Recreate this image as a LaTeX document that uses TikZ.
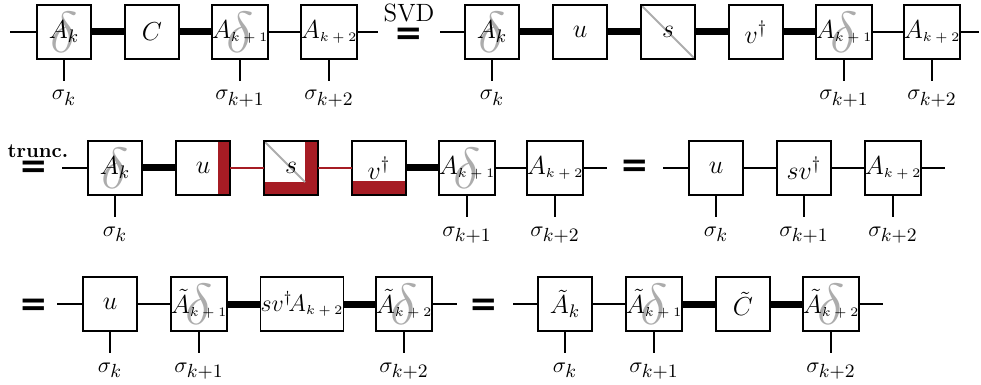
\RequirePackage{fix-cm}
\documentclass[tikz,border=0pt]{standalone}
\usepackage{fontspec}
\newfontfamily\eqfont{DejaVu Sans}
\usetikzlibrary{calc,positioning}
\pgfdeclarelayer{bg}
\pgfsetlayers{bg,main}
\definecolor{trunc}{RGB}{166,28,36}
\definecolor{dgray}{RGB}{172,172,172}
\newcommand{\ssub}[1]{\hbox{\fontsize{6.5}{7}\selectfont$#1$}}
\newcommand{\lsub}[1]{\hbox{\fontsize{9.5}{11}\selectfont$#1$}}
\begin{document}
\begin{tikzpicture}[x=0.5pt,y=-0.5pt,
  font=\fontsize{11}{13}\selectfont,
  tb/.style={draw, line width=0.9pt, minimum width=27pt, minimum height=27pt, inner sep=0pt, outer sep=0pt, font=\fontsize{13}{15}\selectfont},
  wide/.style={tb, minimum width=41pt, font=\fontsize{12}{14}\selectfont},
  thin/.style={line width=0.9pt},
  fat/.style={line width=3.5pt},
  redl/.style={line width=0.8pt, draw=trunc},
  lab/.style={inner sep=0pt, outer sep=0pt, text height=9.5pt, text depth=4pt, below=11pt of #1},
  eqs/.style={font=\eqfont\bfseries\fontsize{17}{17}\selectfont, inner sep=0pt},
  dl/.style={text=dgray, font=\fontsize{29}{29}\selectfont, inner sep=0pt},
  diag/.style={draw=dgray, line width=0.9pt}
]
\useasboundingbox (0,0) rectangle (981,385);

% ---------- Row 1, left ----------
\coordinate (r1l) at (10,32);
\node[tb] (a1) at (64,32) {$A_k$};
\node[tb] (c1) at (152,32) {$C$};
\node[tb] (b1) at (240,32) {$A_{\ssub{k+1}}$};
\node[tb] (d1) at (329,32) {$A_{\ssub{k+2}}$};
\coordinate (r1r) at (378,32);
\draw[thin] (r1l) -- (a1);
\draw[fat] (a1) -- (c1);
\draw[fat] (c1) -- (b1);
\draw[thin] (b1) -- (d1);
\draw[thin] (d1) -- (r1r);
\node[lab=a1] (la1) {$\sigma_{\lsub{k}}$};
\node[lab=b1] (lb1) {$\sigma_{\lsub{k{+}1}}$};
\node[lab=d1] (ld1) {$\sigma_{\lsub{k{+}2}}$};
\foreach \n in {a1,b1,d1} \draw[thin] (\n.south) -- (l\n.north);

% SVD equals
\node (svd) at (409,13) {\fontsize{12.5}{14}\selectfont SVD};
\node[eqs] (eq1) at (409,36) {=};

% ---------- Row 1, right ----------
\coordinate (r1l2) at (440,32);
\node[tb] (e1) at (492,32) {$A_k$};
\node[tb] (u1) at (580,32) {$u$};
\node[tb] (s1) at (668,32) {$s$};
\node[tb] (v1) at (756,32) {$v^\dagger$};
\node[tb] (f1) at (844,32) {$A_{\ssub{k+1}}$};
\node[tb] (g1) at (932,32) {$A_{\ssub{k+2}}$};
\coordinate (r1r2) at (979,32);
\draw[thin] (r1l2) -- (e1);
\draw[fat] (e1) -- (u1);
\draw[fat] (u1) -- (s1);
\draw[fat] (s1) -- (v1);
\draw[fat] (v1) -- (f1);
\draw[thin] (f1) -- (g1);
\draw[thin] (g1) -- (r1r2);
\node[lab=e1] (le1) {$\sigma_{\lsub{k}}$};
\node[lab=f1] (lf1) {$\sigma_{\lsub{k{+}1}}$};
\node[lab=g1] (lg1) {$\sigma_{\lsub{k{+}2}}$};
\foreach \n in {e1,f1,g1} \draw[thin] (\n.south) -- (l\n.north);

% ---------- Row 2, left ----------
\node (trc) at (38,151) {\fontsize{10}{12}\selectfont\bfseries trunc.};
\node[eqs] (eq2) at (34,169) {=};
\coordinate (r2l) at (62,168);
\node[tb] (a2) at (115,168) {$A_k$};
\node[tb] (u2) at (203,168) {$u$};
\node[tb] (s2) at (291,168) {$s$};
\node[tb] (v2) at (379,168) {$v^\dagger$};
\node[tb] (b2) at (467,168) {$A_{\ssub{k+1}}$};
\node[tb] (d2) at (555,168) {$A_{\ssub{k+2}}$};
\coordinate (r2r) at (607,168);
\draw[thin] (r2l) -- (a2);
\draw[fat] (a2) -- (u2);
\draw[redl] (u2) -- (s2);
\draw[redl] (s2) -- (v2);
\draw[fat] (v2) -- (b2);
\draw[thin] (b2) -- (d2);
\draw[thin] (d2) -- (r2r);
\node[lab=a2] (la2) {$\sigma_{\lsub{k}}$};
\node[lab=b2] (lb2) {$\sigma_{\lsub{k{+}1}}$};
\node[lab=d2] (ld2) {$\sigma_{\lsub{k{+}2}}$};
\foreach \n in {a2,b2,d2} \draw[thin] (\n.south) -- (l\n.north);

\node[eqs] (eq3) at (635,168) {=};

% ---------- Row 2, right ----------
\coordinate (r2l2) at (663,168);
\node[tb] (u3) at (716,168) {$u$};
\node[tb] (sv3) at (804,168) {$sv^\dagger$};
\node[tb] (d3) at (893,168) {$A_{\ssub{k+2}}$};
\coordinate (r2r2) at (945,168);
\draw[thin] (r2l2) -- (u3);
\draw[thin] (u3) -- (sv3);
\draw[thin] (sv3) -- (d3);
\draw[thin] (d3) -- (r2r2);
\node[lab=u3] (lu3) {$\sigma_{\lsub{k}}$};
\node[lab=sv3] (lsv3) {$\sigma_{\lsub{k{+}1}}$};
\node[lab=d3] (ld3) {$\sigma_{\lsub{k{+}2}}$};
\foreach \n in {u3,sv3,d3} \draw[thin] (\n.south) -- (l\n.north);

% ---------- Row 3, left ----------
\node[eqs] (eq4) at (34,307) {=};
\coordinate (r3l) at (57,304);
\node[tb] (u4) at (110,304) {$u$};
\node[tb] (t4) at (199,304) {$\tilde{A}_{\ssub{k+1}}$};
\node[wide] (m4) at (302,304) {$sv^\dagger\! A_{\ssub{k+2}}$};
\node[tb] (w4) at (404,304) {$\tilde{A}_{\ssub{k+2}}$};
\coordinate (r3r) at (457,304);
\draw[thin] (r3l) -- (u4);
\draw[thin] (u4) -- (t4);
\draw[fat] (t4) -- (m4);
\draw[fat] (m4) -- (w4);
\draw[thin] (w4) -- (r3r);
\node[lab=u4] (lu4) {$\sigma_{\lsub{k}}$};
\node[lab=t4] (lt4) {$\sigma_{\lsub{k{+}1}}$};
\node[lab=w4] (lw4) {$\sigma_{\lsub{k{+}2}}$};
\foreach \n in {u4,t4,w4} \draw[thin] (\n.south) -- (l\n.north);

\node[eqs] (eq5) at (484,307) {=};

% ---------- Row 3, right ----------
\coordinate (r3l2) at (513,304);
\node[tb] (p5) at (565,304) {$\tilde{A}_k$};
\node[tb] (q5) at (654,304) {$\tilde{A}_{\ssub{k+1}}$};
\node[tb] (c5) at (743,304) {$\tilde{C}$};
\node[tb] (w5) at (831,304) {$\tilde{A}_{\ssub{k+2}}$};
\coordinate (r3r2) at (883,304);
\draw[thin] (r3l2) -- (p5);
\draw[thin] (p5) -- (q5);
\draw[fat] (q5) -- (c5);
\draw[fat] (c5) -- (w5);
\draw[thin] (w5) -- (r3r2);
\node[lab=p5] (lp5) {$\sigma_{\lsub{k}}$};
\node[lab=q5] (lq5) {$\sigma_{\lsub{k{+}1}}$};
\node[lab=w5] (lw5) {$\sigma_{\lsub{k{+}2}}$};
\foreach \n in {p5,q5,w5} \draw[thin] (\n.south) -- (l\n.north);

% ---------- background decorations ----------
\begin{pgfonlayer}{bg}
  \foreach \n in {a1,b1,e1,f1,a2,b2,t4,w4,q5,w5}
    \node[dl] (dl\n) at (\n) {$\delta$};
  \draw[diag] (s1.north west) -- (s1.south east);
  \fill[trunc] ($(u2.north east)+(-12,0)$) rectangle (u2.south east);
  \fill[trunc] (s2.south west) rectangle ($(s2.south east)+(0,-13)$);
  \fill[trunc] ($(s2.north east)+(-13,0)$) rectangle (s2.south east);
  \draw[diag] (s2.north west) -- ($(s2.south east)+(-13,-13)$);
  \fill[trunc] (v2.south west) rectangle ($(v2.south east)+(0,-14)$);
\end{pgfonlayer}
\end{tikzpicture}
\end{document}
